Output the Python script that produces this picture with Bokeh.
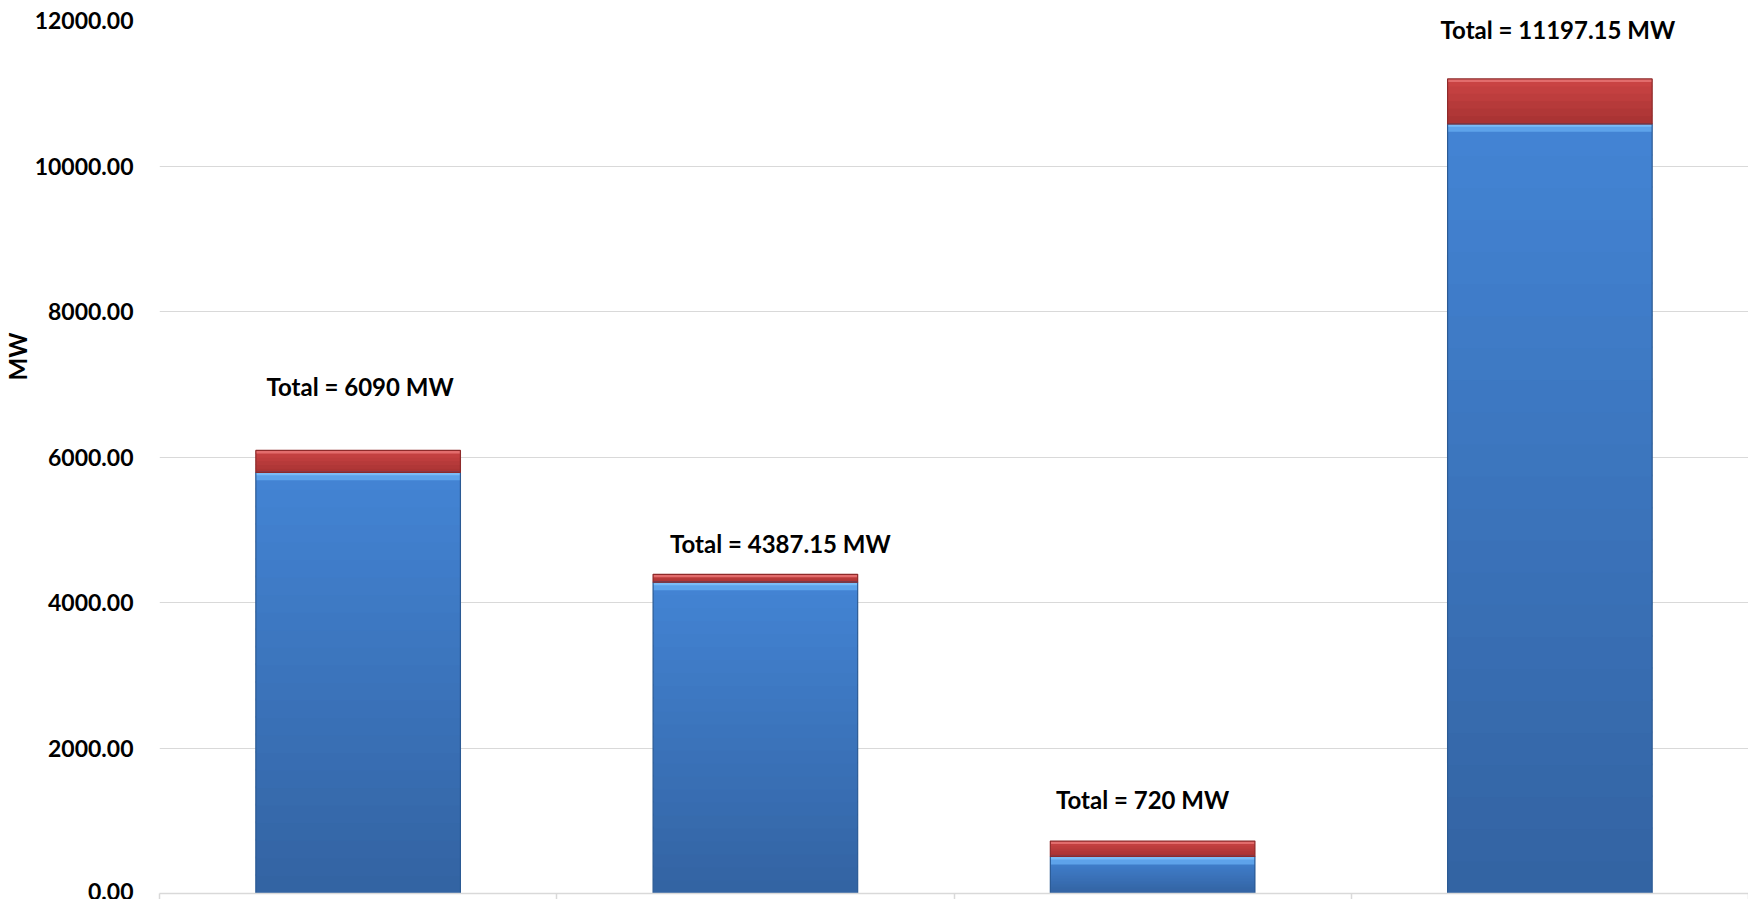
from bokeh.plotting import figure
from bokeh.models import Range1d, FixedTicker, NumeralTickFormatter, Label, ColumnDataSource, Title
from bokeh.embed import file_html
from bokeh.resources import INLINE

# ---- data ----
blue_values = [5790, 4280, 510, 10580]
red_values = [300, 107.15, 210, 617.15]
y_ticks = [0, 2000, 4000, 6000, 8000, 10000, 12000]
y_axis_title = "MW"

# label placement (screen px relative to bar top / bar centre)
label_dy = [64, 31, 42, 49]
label_dx = [2, 25, -10, 8]

FONT = "Lato"
n = len(blue_values)
xs = [i + 0.5 for i in range(n)]
totals = [b + r for b, r in zip(blue_values, red_values)]

def fmt(t):
    s = f"{t:.2f}".rstrip("0").rstrip(".")
    return f"Total = {s} MW"

def mix(c1, c2, f):
    a = [int(c1[i:i + 2], 16) for i in (1, 3, 5)]
    b = [int(c2[i:i + 2], 16) for i in (1, 3, 5)]
    return "#" + "".join(f"{round(x + (y - x) * f):02x}" for x, y in zip(a, b))

p = figure(width=1748, height=899, output_backend="svg", toolbar_location=None,
           x_range=Range1d(0, n), y_range=Range1d(0, 12000),
           min_border_left=157, min_border_right=0, min_border_top=20, min_border_bottom=0)
p.outline_line_color = None
p.background_fill_color = "white"

bar_w = 0.515
px = 12000 / 873.0  # data units per screen pixel (styling only)

# gradient slices for the blue segments (overlapping to avoid seams)
K = 24
gx, gb, gt, gc = [], [], [], []
for x, b in zip(xs, blue_values):
    for k in range(K):
        gx.append(x)
        gb.append(b * k / K)
        gt.append(min(b, b * (k + 1) / K + 2 * px))
        gc.append(mix("#3363a2", "#4384d4", (k + 0.5) / K))
p.vbar(x=gx, bottom=gb, top=gt, width=bar_w, fill_color=gc, line_color=None)

# bevel highlight at top of blue
src = ColumnDataSource(dict(x=xs, blue=blue_values, tot=totals,
                            b1=[b - 8 * px for b in blue_values],
                            b2=[b - 3 * px for b in blue_values],
                            r1=[t - 3 * px for t in totals]))
p.vbar(x="x", bottom="b1", top="blue", width=bar_w, source=src,
       fill_color="#5ea3ea", line_color=None)
p.vbar(x="x", bottom="b2", top="blue", width=bar_w, source=src,
       fill_color="#7bbcf6", line_color=None)

# red segment with gradient
KR = 6
rx, rb, rt, rc = [], [], [], []
for x, b, r in zip(xs, blue_values, red_values):
    for k in range(KR):
        rx.append(x)
        rb.append(b + r * k / KR)
        rt.append(min(b + r, b + r * (k + 1) / KR + 1 * px))
        rc.append(mix("#a73232", "#cc4545", (k + 0.5) / KR))
p.vbar(x=rx, bottom=rb, top=rt, width=bar_w, fill_color=rc, line_color=None)
p.vbar(x="x", bottom="r1", top="tot", width=bar_w, source=src,
       fill_color="#e26c6c", line_color=None)

# outlines
p.vbar(x="x", bottom=0, top="blue", width=bar_w, source=src,
       fill_color=None, line_color="#2b5a94", line_width=1.2)
p.vbar(x="x", bottom="blue", top="tot", width=bar_w, source=src,
       fill_color=None, line_color="#8e2a2a", line_width=1.2)

for x, t, dy, dx in zip(xs, totals, label_dy, label_dx):
    p.add_layout(Label(x=x, y=t, x_offset=dx, y_offset=dy, text=fmt(t),
                       text_font=FONT, text_font_style="bold", text_font_size="24px",
                       text_align="center", text_baseline="middle", text_color="black"))

p.add_layout(Title(text=y_axis_title, align="right", offset=312, standoff=0,
                   text_font=FONT, text_font_style="bold", text_font_size="24px",
                   text_color="black"), "left")

# axes
p.yaxis.ticker = FixedTicker(ticks=y_ticks)
p.yaxis.formatter = NumeralTickFormatter(format="0.00")
p.yaxis.axis_line_color = None
p.yaxis.major_tick_line_color = None
p.yaxis.minor_tick_line_color = None
p.yaxis.major_tick_out = 0
p.yaxis.major_label_standoff = 26
p.yaxis.major_label_text_font = FONT
p.yaxis.major_label_text_font_style = "bold"
p.yaxis.major_label_text_font_size = "23px"
p.yaxis.major_label_text_color = "black"

p.xaxis.ticker = FixedTicker(ticks=list(range(n + 1)))
p.xaxis.major_label_overrides = {i: "" for i in range(n + 1)}
p.xaxis.major_label_text_font_size = "1px"
p.xaxis.major_label_standoff = 0
p.xaxis.axis_line_color = "#d9d9d9"
p.xaxis.axis_line_width = 1.5
p.xaxis.major_tick_line_color = "#d9d9d9"
p.xaxis.major_tick_line_width = 1.5
p.xaxis.major_tick_out = 6
p.xaxis.major_tick_in = 0
p.xaxis.minor_tick_line_color = None

p.xgrid.grid_line_color = None
p.ygrid.grid_line_color = "#d9d9d9"
p.ygrid.grid_line_width = 1

open("out.html", "w").write(file_html(p, INLINE))
